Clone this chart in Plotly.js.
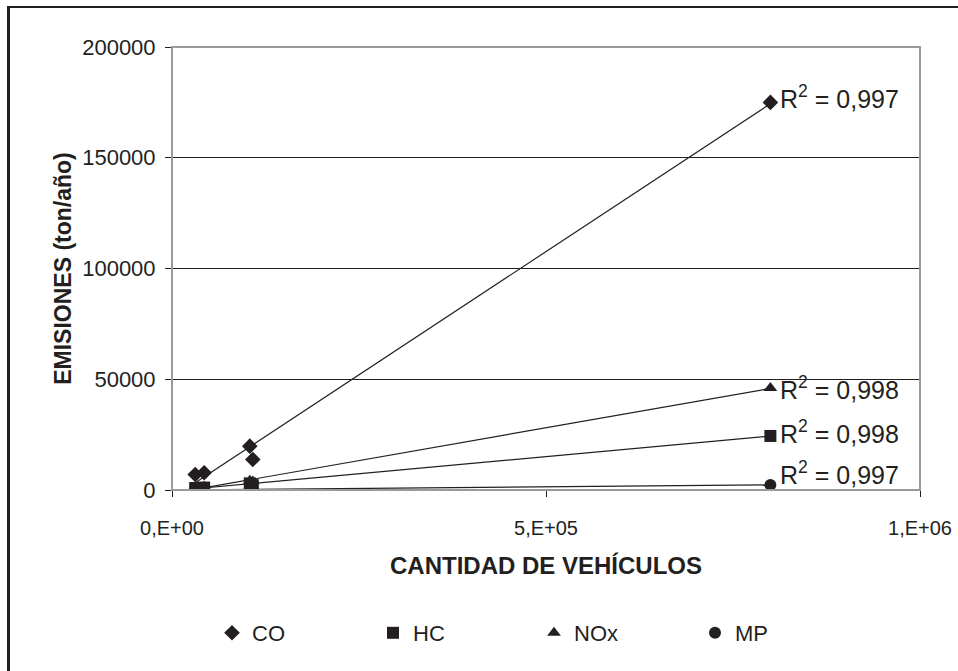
<!DOCTYPE html>
<html>
<head>
<meta charset="utf-8">
<script src="https://cdn.plot.ly/plotly-3.0.1.min.js"></script>
<style>
html,body{margin:0;padding:0;background:#fff;}
#chart{position:absolute;left:0;top:0;width:958px;height:671px;}
#frame{position:absolute;left:7px;top:6px;width:960px;height:680px;border-left:3px solid #231f20;border-top:2px solid #231f20;pointer-events:none;z-index:10;}
</style>
</head>
<body>
<div id="chart"></div>
<div id="frame"></div>
<script>
const vehicles = [31000, 43000, 104000, 108000, 800000];
const CO  = [7000, 7800, 19800, 13800, 175000];
const HC  = [900, 1100, 3000, 2200, 24400];
const NOx = [1200, 1500, 4200, 3800, 46000];
const MP  = [100, 150, 300, 250, 2300];
const seriesNames = ['CO', 'HC', 'NOx', 'MP'];
const seriesData = [CO, HC, NOx, MP];
const symbols = ['diamond', 'square', 'triangle-up', 'circle'];
const r2Labels = ['R<sup>2</sup> = 0,997', 'R<sup>2</sup> = 0,998', 'R<sup>2</sup> = 0,998', 'R<sup>2</sup> = 0,997'];
const r2Shift = [5, 4, 0, 12];

const FONT = 'Liberation Sans, Arial, sans-serif';

function fit(x, y) {
  const n = x.length;
  const mx = x.reduce((a, b) => a + b, 0) / n;
  const my = y.reduce((a, b) => a + b, 0) / n;
  let sxy = 0, sxx = 0;
  for (let i = 0; i < n; i++) { sxy += (x[i] - mx) * (y[i] - my); sxx += (x[i] - mx) ** 2; }
  const b = sxy / sxx;
  return { a: my - b * mx, b: b };
}

const traces = [];
const xmin = Math.min(...vehicles), xmax = Math.max(...vehicles);
seriesData.forEach((ys, i) => {
  const f = fit(vehicles, ys);
  traces.push({
    x: [xmin, xmax], y: [f.a + f.b * xmin, f.a + f.b * xmax],
    mode: 'lines', line: { color: '#231f20', width: 1.2 },
    showlegend: false, hoverinfo: 'skip'
  });
});
seriesData.forEach((ys, i) => {
  traces.push({
    x: vehicles, y: ys, name: seriesNames[i], mode: 'markers', type: 'scatter',
    marker: { symbol: symbols[i], size: 12, color: '#231f20' }
  });
});

const annotations = seriesData.map((ys, i) => ({
  x: vehicles[vehicles.length - 1], y: ys[ys.length - 1],
  xref: 'x', yref: 'y', text: r2Labels[i], showarrow: false,
  xanchor: 'left', yanchor: 'middle', xshift: 8, yshift: r2Shift[i],
  font: { family: FONT, size: 25, color: '#231f20' }
}));

const layout = {
  width: 958, height: 671,
  margin: { l: 172, r: 38, t: 47, b: 181, autoexpand: false },
  paper_bgcolor: '#fff', plot_bgcolor: '#fff',
  font: { family: FONT, color: '#231f20', size: 20 },
  xaxis: {
    range: [0, 1000000], tickvals: [0, 500000, 1000000],
    ticktext: ['0,E+00', '5,E+05', '1,E+06'], automargin: false,
    showgrid: false, zeroline: false, showline: true, linecolor: '#231f20', linewidth: 1,
    ticks: 'outside', ticklen: 6, tickcolor: '#231f20', ticklabelstandoff: 14,
    tickfont: { family: FONT, size: 20, color: '#231f20' },
    title: { text: '<b>CANTIDAD DE VEHÍCULOS</b>', font: { family: FONT, size: 24, color: '#231f20' }, standoff: 19 }
  },
  yaxis: {
    range: [0, 200000], tickvals: [0, 50000, 100000, 150000, 200000],
    ticktext: ['0', '50000', '100000', '150000', '200000'], automargin: false,
    showgrid: true, gridcolor: '#231f20', gridwidth: 1, zeroline: false,
    showline: true, linecolor: '#231f20', linewidth: 1,
    ticks: 'outside', ticklen: 6, tickcolor: '#231f20', ticklabelstandoff: 5,
    tickfont: { family: FONT, size: 22, color: '#231f20' },
    title: { text: '<b>EMISIONES (ton/año)</b>', font: { family: FONT, size: 23, color: '#231f20' }, standoff: 4 }
  },
  legend: {
    orientation: 'h', xref: 'container', yref: 'container',
    x: 212 / 958, y: 1 - 633 / 671, xanchor: 'left', yanchor: 'middle',
    entrywidth: 116, entrywidthmode: 'pixels', itemwidth: 30,
    font: { family: FONT, size: 22, color: '#231f20' }, bgcolor: 'rgba(0,0,0,0)'
  },
  shapes: [{
    type: 'rect', xref: 'paper', yref: 'paper', x0: 0, x1: 1, y0: 0, y1: 1,
    line: { color: '#9a9a9a', width: 2 }
  }],
  annotations: annotations
};

Plotly.newPlot('chart', traces, layout, { displayModeBar: false, staticPlot: true });
</script>
</body>
</html>
